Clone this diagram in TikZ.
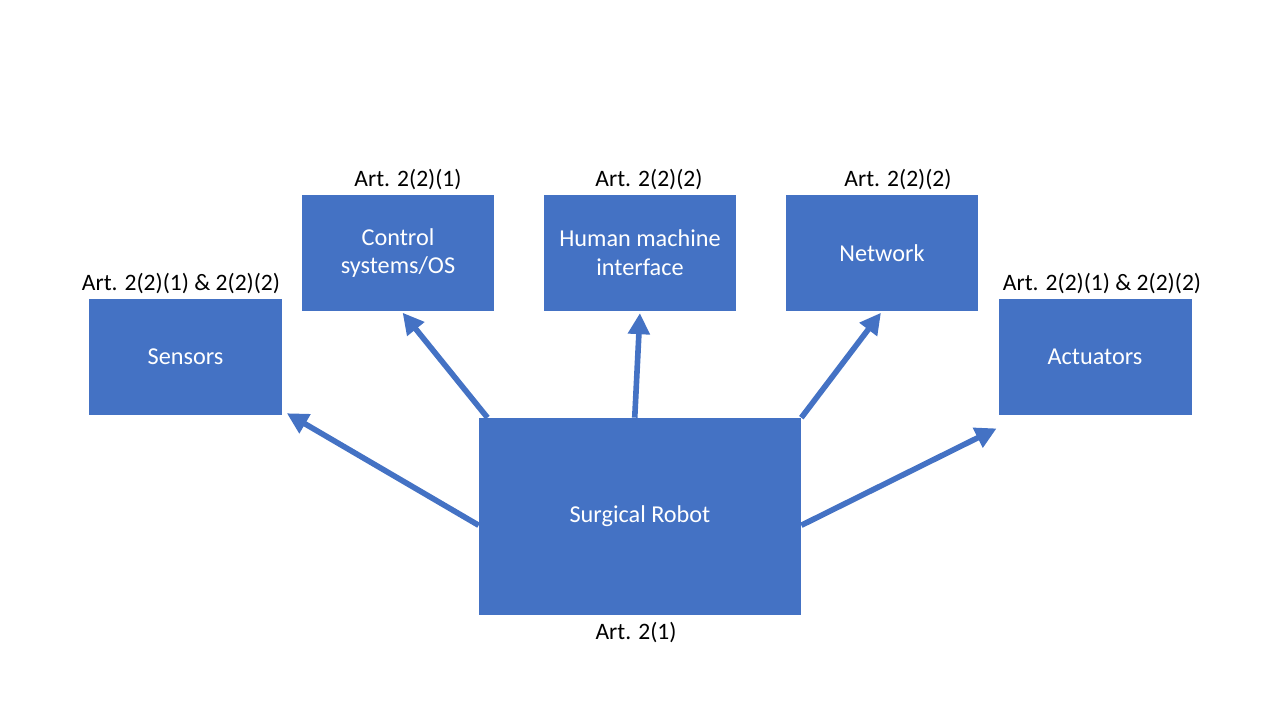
\documentclass[tikz,border=0pt]{standalone}
\usepackage{fontspec}
\setmainfont{Carlito}
\usetikzlibrary{arrows.meta}
\definecolor{officeblue}{HTML}{4472C4}

\begin{document}
\begin{tikzpicture}[x=0.02cm, y=-0.02cm,
  box/.style={fill=officeblue, draw=none, text=white, align=center,
    minimum width=3.86cm, minimum height=2.32cm, inner sep=0pt,
    font=\fontsize{13.8}{16.4}\selectfont},
  lbl/.style={text=black, inner sep=0pt, font=\fontsize{13.4}{16}\selectfont},
  conn/.style={officeblue, line width=3.2pt,
    -{Triangle[length=12pt, width=12pt]}, shorten >=1pt}]
  \useasboundingbox (0,0) rectangle (1280,720);
  % boxes
  \node[box] (sensors) at (185.5,357) {Sensors};
  \node[box] (control) at (398,253) {Control\\systems/OS};
  \node[box] (hmi) at (640,253) {Human machine\\interface};
  \node[box] (network) at (882,253) {Network};
  \node[box] (actuators) at (1095,357) {Actuators};
  \node[box, minimum width=6.44cm, minimum height=3.94cm] (robot) at (640,516.5) {Surgical Robot};
  % labels
  \node[lbl] (sensorslbl) at (181,284) {Art. 2(2)(1) \& 2(2)(2)};
  \node[lbl] (controllbl) at (408,180) {Art. 2(2)(1)};
  \node[lbl] (hmilbl) at (649,180) {Art. 2(2)(2)};
  \node[lbl] (networklbl) at (898,180) {Art. 2(2)(2)};
  \node[lbl] (actuatorslbl) at (1102,284) {Art. 2(2)(1) \& 2(2)(2)};
  \node[lbl] (robotlbl) at (636,633) {Art. 2(1)};
  % connectors
  \draw[conn] ([yshift=-5]robot.west) -- ([shift={(3,-3)}]sensors.south east);
  \draw[conn] ([xshift=5]robot.north west) -- ([xshift=2]control.south);
  \draw[conn] ([xshift=-3]robot.north) -- (hmi.south);
  \draw[conn] (robot.north east) -- (network.south);
  \draw[conn] ([yshift=-5]robot.east) -- ([yshift=-7]actuators.south west);
\end{tikzpicture}
\end{document}
